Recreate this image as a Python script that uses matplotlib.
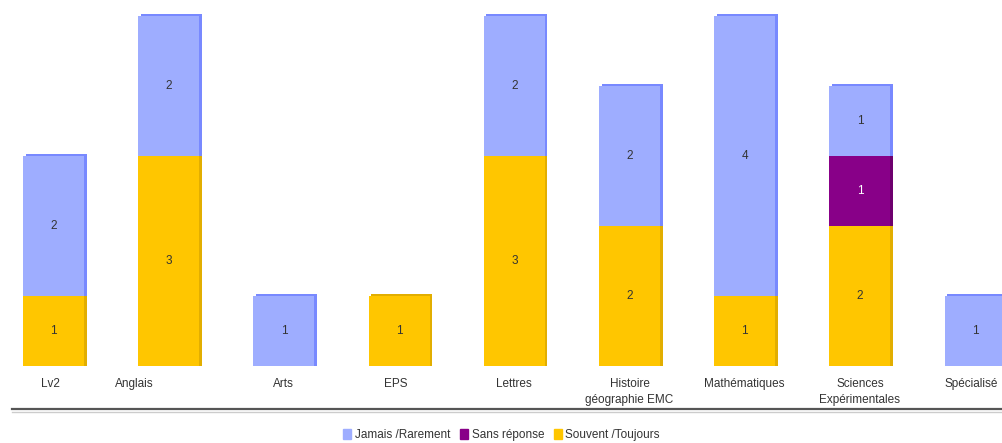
import matplotlib
matplotlib.use("Agg")
import matplotlib.pyplot as plt
from matplotlib.lines import Line2D
from matplotlib.patches import Patch
import numpy as np

plt.rcParams['font.family'] = ['Liberation Sans', 'DejaVu Sans']

categories = ["Lv2", "Anglais", "Arts", "EPS", "Lettres", "Histoire\ngéographie EMC",
              "Mathématiques", "Sciences\nExpérimentales", "Spécialisé"]
souvent = [1, 3, 0, 1, 3, 2, 1, 2, 0]
sans_reponse = [0, 0, 0, 0, 0, 0, 0, 1, 0]
jamais = [2, 2, 1, 0, 2, 2, 4, 1, 1]

series = [
    ("Souvent /Toujours", souvent, "#FFC600", "#E2AE00", "#333333"),
    ("Sans réponse", sans_reponse, "#880088", "#6E006E", "#FFFFFF"),
    ("Jamais /Rarement", jamais, "#9EADFF", "#7889FF", "#333333"),
]
# tick label nudges (the Anglais label sits left of its bar in the original)
label_shift = [-0.03, -0.3, 0, -0.03, 0, 0, 0, 0, -0.03]

W, H = 1003, 443
fig = plt.figure(figsize=(W / 100, H / 100), dpi=100)
base_px = 366
unit_px = 70
step_px = 115.2
first_px = 53.5
ax = fig.add_axes([0, 1 - base_px / H, 1, base_px / H])
ax.set_xlim(-first_px / step_px, (W - first_px) / step_px)
ax.set_ylim(0, base_px / unit_px)
ax.axis("off")

x = np.arange(len(categories))
width = 61 / step_px
dx = 2.5 / step_px
dy = 2.5 / unit_px

bottom = np.zeros(len(categories))
for name, vals, col, dark, tcol in series:
    vals = np.array(vals, dtype=float)
    # darker prism side behind each segment
    ax.bar(x + dx, vals + dy * (vals > 0), width, bottom=bottom, color=dark,
           align="center", zorder=2)
    ax.bar(x, vals, width, bottom=bottom, color=col, zorder=3)
    for i, v in enumerate(vals):
        if v > 0:
            ax.text(x[i], bottom[i] + v / 2, f"{int(v)}", ha="center", va="center",
                    fontsize=8.5, color=tcol, zorder=4)
    bottom += vals

for i, lab in enumerate(categories):
    ax.text(x[i] + label_shift[i], -12 / unit_px, lab, ha="center", va="top",
            fontsize=8.5, color="#333333", linespacing=1.5, clip_on=False)

# separator line above the legend
fig.add_artist(Line2D([12 / W, 1], [1 - 409 / H] * 2, color="#555555", lw=1.6))
fig.add_artist(Line2D([12 / W, 1], [1 - 411.5 / H] * 2, color="#CCCCCC", lw=1))

handles = [Patch(color=series[2][2]), Patch(color=series[1][2]), Patch(color=series[0][2])]
labels = [series[2][0], series[1][0], series[0][0]]
fig.legend(handles, labels, loc="center", bbox_to_anchor=(0.5, 1 - 435 / H), ncol=3,
           frameon=False, fontsize=8.5, handlelength=0.7, handleheight=0.9,
           handletextpad=0.3, columnspacing=0.8, labelcolor="#333333")

fig.savefig("out.png", dpi=100)
